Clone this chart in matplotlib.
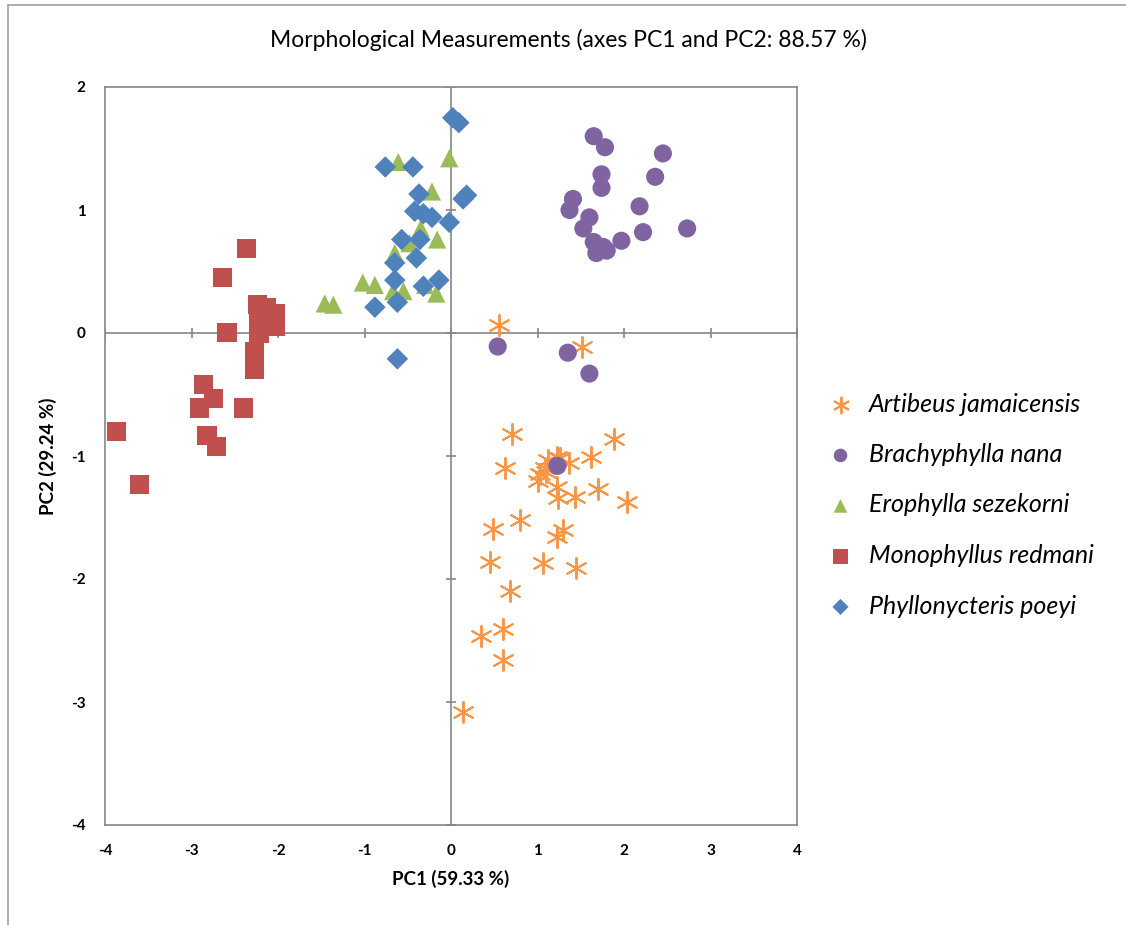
import matplotlib
matplotlib.use("Agg")
import matplotlib.pyplot as plt
from matplotlib.patches import Rectangle
import numpy as np

# PCA scores
artibeus_x = [0.55, 1.52, 0.71, 1.88, 0.62, 1.12, 1.26, 1.36, 1.62, 1.03, 1.01, 1.09, 1.22, 1.24, 1.43,
              1.70, 2.03, 1.29, 1.22, 0.80, 0.48, 0.45, 1.06, 1.45, 0.68, 0.35, 0.60, 0.60, 0.14, 1.10, 1.22]
artibeus_y = [0.065, -0.11, -0.82, -0.86, -1.10, -1.03, -1.02, -1.06, -1.01, -1.15, -1.20, -1.10, -1.25, -1.34, -1.33,
              -1.27, -1.37, -1.60, -1.66, -1.52, -1.59, -1.86, -1.87, -1.91, -2.10, -2.46, -2.41, -2.66, -3.08, -1.13, -1.01]

brachy_x = [1.65, 1.78, 2.45, 2.36, 1.74, 1.74, 1.41, 1.37, 2.18, 2.73, 1.60, 1.53, 2.22, 1.97, 1.65,
            1.76, 1.68, 1.80, 0.54, 1.35, 1.60, 1.23]
brachy_y = [1.60, 1.51, 1.46, 1.27, 1.29, 1.18, 1.09, 1.00, 1.03, 0.85, 0.94, 0.85, 0.82, 0.75, 0.74,
            0.70, 0.65, 0.67, -0.11, -0.16, -0.33, -1.08]

eroph_x = [-0.61, -0.02, -0.22, -0.35, -0.48, -0.16, -0.65, -1.02, -0.88, -1.46, -1.36, -0.67, -0.55, -0.30, -0.17]
eroph_y = [1.39, 1.42, 1.15, 0.85, 0.73, 0.76, 0.65, 0.41, 0.39, 0.24, 0.23, 0.34, 0.34, 0.39, 0.32]

mono_x = [-2.36, -2.64, -2.59, -2.24, -2.13, -2.03, -2.23, -2.03, -2.22, -2.27, -2.27, -2.86, -2.75, -2.91,
          -2.40, -2.82, -2.71, -3.87, -3.60]
mono_y = [0.69, 0.45, 0.005, 0.23, 0.21, 0.16, 0.11, 0.05, 0.0, -0.15, -0.30, -0.42, -0.53, -0.61,
          -0.61, -0.83, -0.92, -0.80, -1.23]

phyl_x = [0.02, 0.09, -0.76, -0.44, -0.37, 0.18, 0.14, -0.42, -0.32, -0.22, -0.02, -0.57, -0.36, -0.40,
          -0.65, -0.65, -0.14, -0.32, -0.62, -0.88, -0.62]
phyl_y = [1.75, 1.71, 1.35, 1.35, 1.13, 1.12, 1.09, 0.99, 0.97, 0.94, 0.90, 0.76, 0.76, 0.61,
          0.57, 0.43, 0.43, 0.38, 0.25, 0.21, -0.21]

x_ticks = [-4, -3, -2, -1, 0, 1, 2, 3, 4]
y_ticks = [-4, -3, -2, -1, 0, 1, 2]

plt.rcParams["font.family"] = ["Lato", "DejaVu Sans"]
plt.rcParams["axes.unicode_minus"] = False

fig = plt.figure(figsize=(11.26, 9.25), dpi=100)
ax = fig.add_axes([105 / 1126, 100 / 925, 692 / 1126, 738 / 925])

# outer chart frame (only left and top edges fall inside the image)
fig.patches.append(Rectangle((8 / 1126, -0.2), 1.2, 1.2 - 5 / 925, transform=fig.transFigure,
                             fill=False, edgecolor="#a0a0a0", linewidth=1.2, clip_on=False))

grey = "#868686"
ax.axhline(0, color=grey, linewidth=1.2, zorder=1)
ax.axvline(0, color=grey, linewidth=1.2, zorder=1)
ax.scatter(x_ticks, np.zeros(len(x_ticks)), marker="|", s=60, color=grey, linewidths=1.2, zorder=1)
ax.scatter(np.zeros(len(y_ticks)), y_ticks, marker="_", s=60, color=grey, linewidths=1.2, zorder=1)

ax.scatter(artibeus_x, artibeus_y, marker=(6, 2, 0), s=230, color="#F79646", linewidths=1.4,
           label="Artibeus jamaicensis", zorder=3)
ax.scatter(brachy_x, brachy_y, marker="o", s=170, color="#8064A2", edgecolors="none",
           label="Brachyphylla nana", zorder=3)
ax.scatter(eroph_x, eroph_y, marker="^", s=170, color="#9BBB59", edgecolors="none",
           label="Erophylla sezekorni", zorder=3)
ax.scatter(mono_x, mono_y, marker="s", s=190, color="#C0504D", edgecolors="none",
           label="Monophyllus redmani", zorder=3)
ax.scatter(phyl_x, phyl_y, marker="D", s=120, color="#4F81BD", edgecolors="none",
           label="Phyllonycteris poeyi", zorder=3)

ax.set_xlim(-4, 4)
ax.set_ylim(-4, 2)
ax.set_xticks(x_ticks)
ax.set_yticks(y_ticks)
ax.tick_params(length=0, labelsize=11, pad=14)
for lab in ax.get_xticklabels() + ax.get_yticklabels():
    lab.set_fontweight("bold")
for sp in ax.spines.values():
    sp.set_color(grey)
    sp.set_linewidth(1.2)

ax.set_xlabel("PC1 (59.33 %)", fontsize=13.5, fontweight="bold", labelpad=8)
ax.set_ylabel("PC2 (29.24 %)", fontsize=13.5, fontweight="bold", labelpad=10)
fig.text(568 / 1126, 1 - 40 / 925, "Morphological Measurements (axes PC1 and PC2: 88.57 %)",
         ha="center", va="center", fontsize=16.5)

leg = ax.legend(loc="center left", bbox_to_anchor=(793 / 1126, 1 - 505 / 925),
                bbox_transform=fig.transFigure, frameon=False, labelspacing=1.1,
                handletextpad=0.15, markerscale=0.75, prop={"style": "italic", "size": 18})

fig.savefig("out.png", dpi=100)
plt.close(fig)
